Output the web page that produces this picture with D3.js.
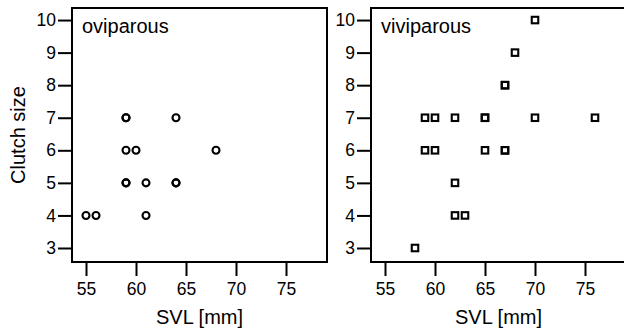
<!DOCTYPE html>
<html>
<head>
<meta charset="utf-8">
<script src="https://cdn.jsdelivr.net/npm/d3@7"></script>
<style>
  body { margin: 0; background: #fff; }
  svg { display: block; font-family: Arial, "Liberation Sans", Helvetica, sans-serif; }
</style>
</head>
<body>
<div id="chart"></div>
<script>
// data (duplicates = overplotted markers)
let ovipSVL    = [55, 56, 61, 59, 59, 61, 64, 64, 59, 60, 68, 59, 59, 64];
let ovipClutch = [4, 4, 4, 5, 5, 5, 5, 5, 6, 6, 6, 7, 7, 7];

let viviSVL    = [58, 62, 63, 62, 59, 60, 65, 67, 67, 59, 60, 62, 65, 65, 70, 76, 67, 67, 68, 70];
let viviClutch = [3, 4, 4, 5, 6, 6, 6, 6, 6, 7, 7, 7, 7, 7, 7, 7, 8, 8, 9, 10];

let xTicks = [55, 60, 65, 70, 75];
let yTicks = [3, 4, 5, 6, 7, 8, 9, 10];
let panelNames = ["oviparous", "viviparous"];

let width = 624, height = 333;
let panelW = 255, panelH = 254;
let panelTop = 8;
let panelLeft = [72, 371];
let tickLen = 14;

let svg = d3.select("#chart").append("svg")
  .attr("width", width)
  .attr("height", height);

let x = d3.scaleLinear().domain([53.6, 79.1]).range([0, panelW]);
let y = d3.scaleLinear().domain([2.57, 10.37]).range([panelH, 0]);

function drawPanel(i, xs, ys, shape) {
  let g = svg.append("g")
    .attr("transform", "translate(" + panelLeft[i] + "," + panelTop + ")");

  let yAxis = d3.axisLeft(y).tickValues(yTicks).tickSize(tickLen).tickPadding(2);
  let yg = g.append("g").call(yAxis);
  let xAxis = d3.axisBottom(x).tickValues(xTicks).tickSize(tickLen).tickPadding(7);
  let xg = g.append("g").attr("transform", "translate(0," + panelH + ")").call(xAxis);

  [yg, xg].forEach(a => {
    a.select(".domain").remove();
    a.selectAll(".tick line")
      .attr("stroke", "#000")
      .attr("stroke-width", 2);
    a.selectAll(".tick text")
      .attr("fill", "#000")
      .style("font-size", "17.5px")
      .style("font-family", "Arial, 'Liberation Sans', Helvetica, sans-serif");
  });

  g.append("rect")
    .attr("x", 0).attr("y", 0)
    .attr("width", panelW).attr("height", panelH)
    .style("fill", "none")
    .style("stroke", "#000")
    .style("stroke-width", "2px");

  g.append("text")
    .attr("x", 10).attr("y", 25)
    .style("font-size", "20px")
    .text(panelNames[i]);

  let pts = xs.map((v, k) => ({ x: v, y: ys[k] }));

  if (shape === "circle") {
    g.selectAll("circle.pt").data(pts).enter().append("circle")
      .attr("class", "pt")
      .attr("cx", d => x(d.x))
      .attr("cy", d => y(d.y))
      .attr("r", 3.5)
      .style("fill", "none")
      .style("stroke", "#000")
      .style("stroke-width", "2.1px");
  } else {
    let s = 6.5;
    g.selectAll("rect.pt").data(pts).enter().append("rect")
      .attr("class", "pt")
      .attr("x", d => x(d.x) - s / 2)
      .attr("y", d => y(d.y) - s / 2)
      .attr("width", s).attr("height", s)
      .style("fill", "none")
      .style("stroke", "#000")
      .style("stroke-width", "2.1px");
  }

  g.append("text")
    .attr("x", panelW / 2)
    .attr("y", 316)
    .attr("text-anchor", "middle")
    .style("font-size", "20px")
    .text("SVL [mm]");
}

drawPanel(0, ovipSVL, ovipClutch, "circle");
drawPanel(1, viviSVL, viviClutch, "square");

svg.append("text")
  .attr("transform", "translate(25," + (panelTop + panelH / 2) + ") rotate(-90)")
  .attr("text-anchor", "middle")
  .style("font-size", "20px")
  .text("Clutch size");
</script>
</body>
</html>
